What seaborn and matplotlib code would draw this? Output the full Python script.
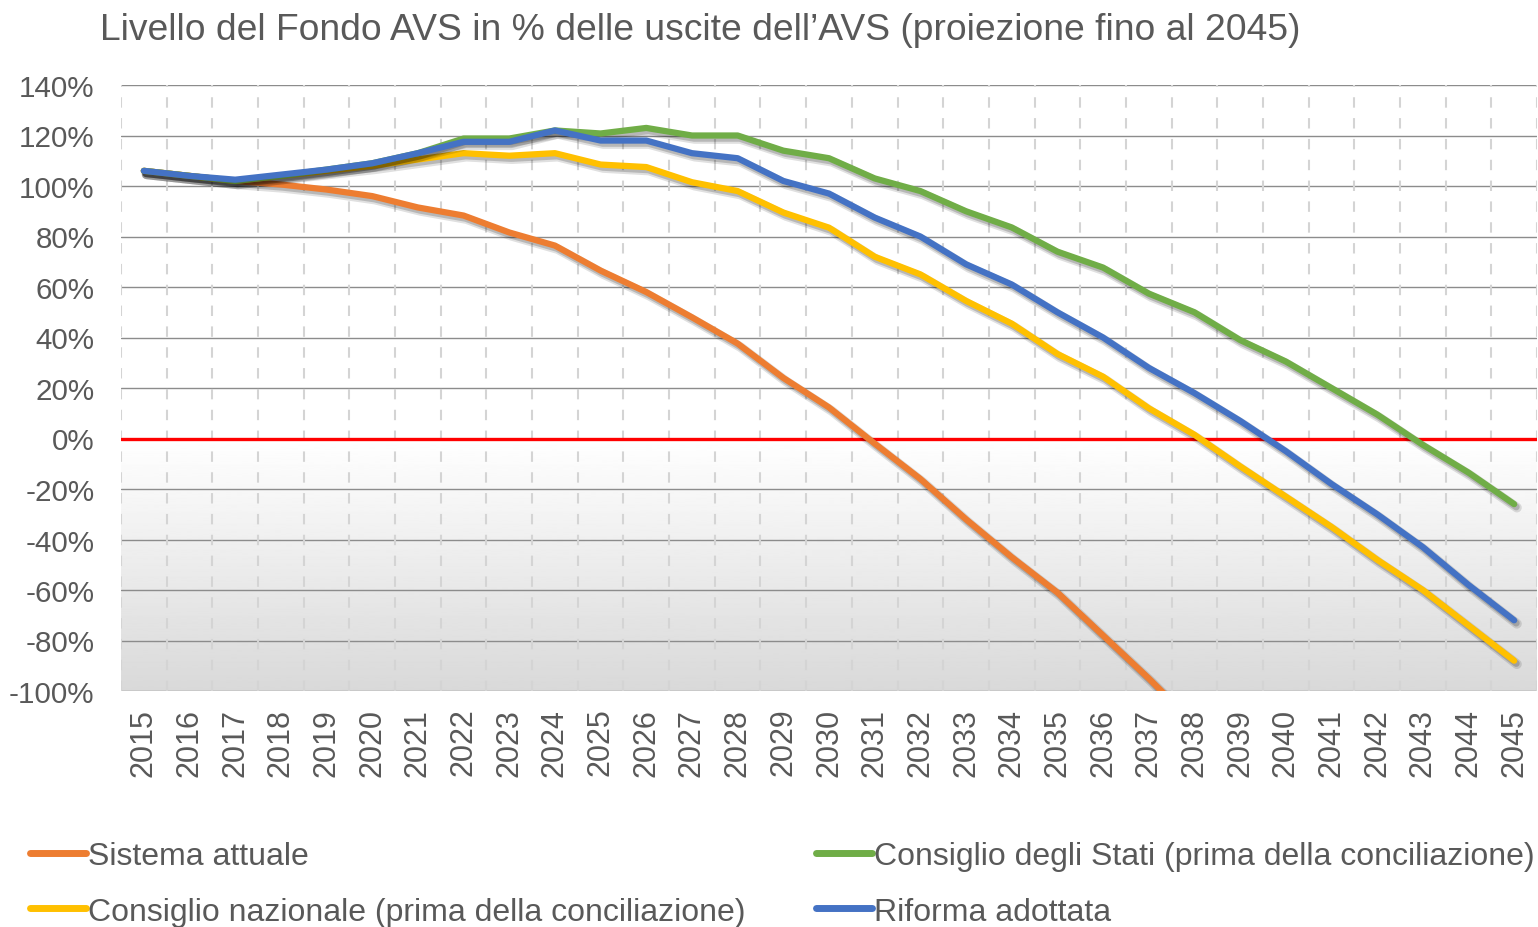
import numpy as np
import pandas as pd
import matplotlib
matplotlib.use("Agg")
import matplotlib.pyplot as plt
import matplotlib.patheffects as pe
import seaborn as sns

# ---------------- data ----------------
years = list(range(2015, 2046))
year_labels = [str(y) for y in years]

sistema_attuale = [106, 104, 102, 100.6, 98.6, 96, 91.5, 88.3, 81.6, 76.4,
                   66.5, 58, 48, 37.6, 24, 12.3, -2, -16, -32, -47,
                   -61, -78, -95, -113]
consiglio_nazionale = [106, 104, 102, 104, 106, 108, 110.5, 113, 112, 113,
                       108.5, 107.5, 101.5, 98, 89.5, 83.5, 72, 65, 54.5, 45.5,
                       33.5, 24.5, 12, 1.5, -11, -23, -35, -48, -60, -74, -88]
consiglio_stati = [106, 104, 102, 104, 106.5, 109, 113, 118.8, 118.8, 122,
                   120.8, 123, 120, 120, 114, 111, 103, 98, 90, 83.6,
                   74, 67.7, 57.4, 50, 39, 30.5, 20, 9.5, -2.5, -13.5, -26]
riforma_adottata = [106, 104, 102.5, 104.5, 106.5, 109, 113, 117.5, 117.5, 122,
                    118, 118, 113, 111, 102, 97, 87.5, 80, 69, 61,
                    50, 40, 28, 18, 7, -5, -18, -30, -43, -58, -72]

series_names = ["Sistema attuale",
                "Consiglio nazionale (prima della conciliazione)",
                "Consiglio degli Stati (prima della conciliazione)",
                "Riforma adottata"]
series_values = [sistema_attuale, consiglio_nazionale, consiglio_stati, riforma_adottata]
colors = ["#ED7D31", "#FFC000", "#70AD47", "#4472C4"]

y_ticks = list(range(-100, 141, 20))
title = "Livello del Fondo AVS in % delle uscite dell’AVS (proiezione fino al 2045)"

frames = []
for name, vals in zip(series_names, series_values):
    frames.append(pd.DataFrame({"Anno": years[:len(vals)], "Valore": vals, "Serie": name}))
df = pd.concat(frames, ignore_index=True)

# ---------------- style ----------------
sns.set_theme(style="white")
plt.rcParams["font.family"] = ["Liberation Sans", "DejaVu Sans"]
text_col = "#595959"

W, H = 1538, 928
fig = plt.figure(figsize=(W / 100, H / 100), dpi=100)
ax = fig.add_axes([121 / W, 1 - 692 / H, (1537 - 121) / W, (692 - 86) / H])

x0, x1 = years[0] - 0.5, years[-1] + 0.5
ax.set_xlim(x0, x1)
ax.set_ylim(-100, 140)

# gradient background below zero
grad = np.linspace(1.0, 0.85, 256).reshape(-1, 1)
ax.imshow(grad, extent=[x0, x1, -100, 0], aspect="auto", cmap="gray",
          vmin=0, vmax=1, zorder=0, origin="upper")

# grid lines
for yv in y_ticks:
    if yv != 0:
        ax.axhline(yv, color="#8c8c8c", lw=1.0, zorder=1)
for xv in np.arange(x0, x1 + 0.01, 1.0):
    ax.axvline(xv, color="#d4d4d4", lw=1.5, ls=(0, (5, 5)), zorder=1)
ax.axhline(0, color="#FF0000", lw=2.4, zorder=2)

sns.lineplot(data=df, x="Anno", y="Valore", hue="Serie", hue_order=series_names,
             palette=colors, linewidth=4.5, ax=ax, zorder=3, legend=True,
             solid_capstyle="round", solid_joinstyle="round")
for line in ax.lines:
    if line.get_linewidth() >= 4.4:
        line.set_path_effects([
            pe.SimpleLineShadow(offset=(2.0, -2.5), shadow_color="black", alpha=0.12, linewidth=7.0),
            pe.SimpleLineShadow(offset=(1.5, -2.0), shadow_color="black", alpha=0.18, linewidth=5.0),
            pe.Normal()])

# axes cosmetics
for s in ax.spines.values():
    s.set_visible(False)
ax.set_xlabel("")
ax.set_ylabel("")
ax.set_yticks(y_ticks)
ax.set_yticklabels([f"{v}%" for v in y_ticks])
ax.set_xticks(years)
ax.set_xticklabels(year_labels, rotation=90, va="top", ha="center")
ax.tick_params(axis="y", length=0, pad=19, labelsize=21.3, labelcolor=text_col)
ax.tick_params(axis="x", length=0, pad=12, labelsize=22, labelcolor=text_col)
ax.grid(False)

fig.text(100 / W, 1 - 30 / H, title, ha="left", va="center", fontsize=26.8, color=text_col)

handles, labels = ax.get_legend_handles_labels()
ax.get_legend().remove()
for h in handles:
    h.set_linewidth(5)
    h.set_solid_capstyle("round")
    h.set_path_effects([])
leg = fig.legend(handles, labels, ncol=2, loc="upper left",
                 bbox_to_anchor=(30 / W, 1 - 842 / H), frameon=False,
                 fontsize=23, handlelength=1.75, handletextpad=0.07,
                 columnspacing=2.2, labelspacing=0.8, borderpad=0, borderaxespad=0)
for t in leg.get_texts():
    t.set_color(text_col)

fig.savefig("out.png", dpi=100)
